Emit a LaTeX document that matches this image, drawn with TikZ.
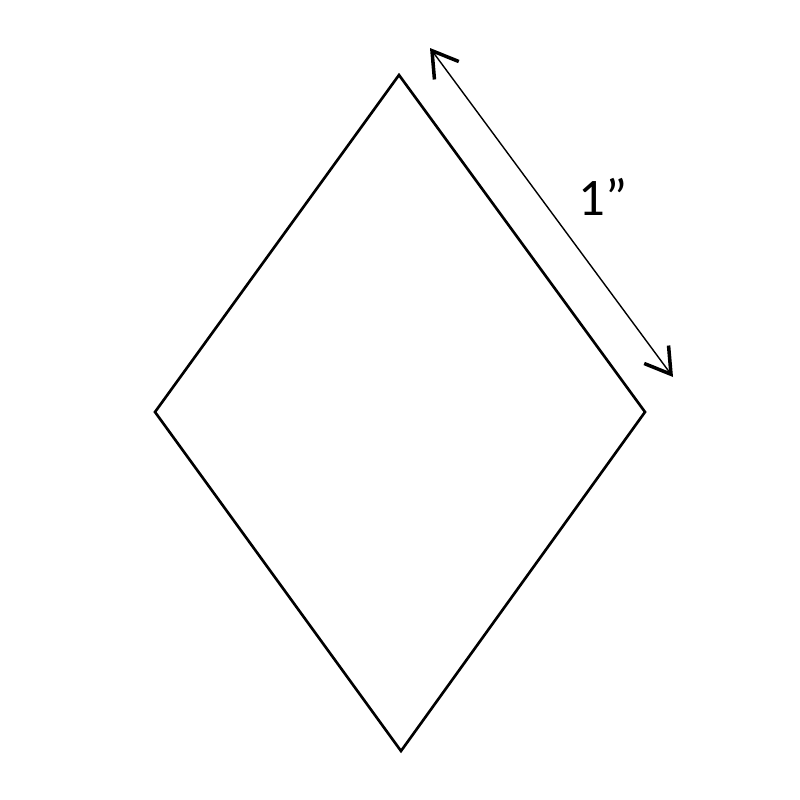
\documentclass[tikz,border=0pt]{standalone}
\usepackage{fontspec}
\setmainfont{Carlito}
\usetikzlibrary{arrows.meta}
\begin{document}
\begin{tikzpicture}[x=0.01cm,y=-0.01cm,
  rhombline/.style={draw=black,line width=0.75pt,line join=miter},
  dimline/.style={draw=black,line width=0.4pt,{Straight Barb[length=7pt,width=8.6pt,line width=1pt]}-{Straight Barb[length=7pt,width=8.6pt,line width=1pt]}},
  lbl/.style={font=\fontsize{15pt}{18pt}\selectfont,inner sep=0pt}]
\useasboundingbox (0,0) rectangle (800,800);
\coordinate (t) at (399,75);
\coordinate (r) at (645,412);
\coordinate (b) at (401,751);
\coordinate (l) at (155,412);
\draw[rhombline] (t) -- (r) -- (b) -- (l) -- cycle;
\coordinate (a1) at (430,48);
\coordinate (a2) at (673,377);
\draw[dimline] (a1) -- (a2);
\node[lbl] (len) at (603,197) {1”};
\end{tikzpicture}
\end{document}
